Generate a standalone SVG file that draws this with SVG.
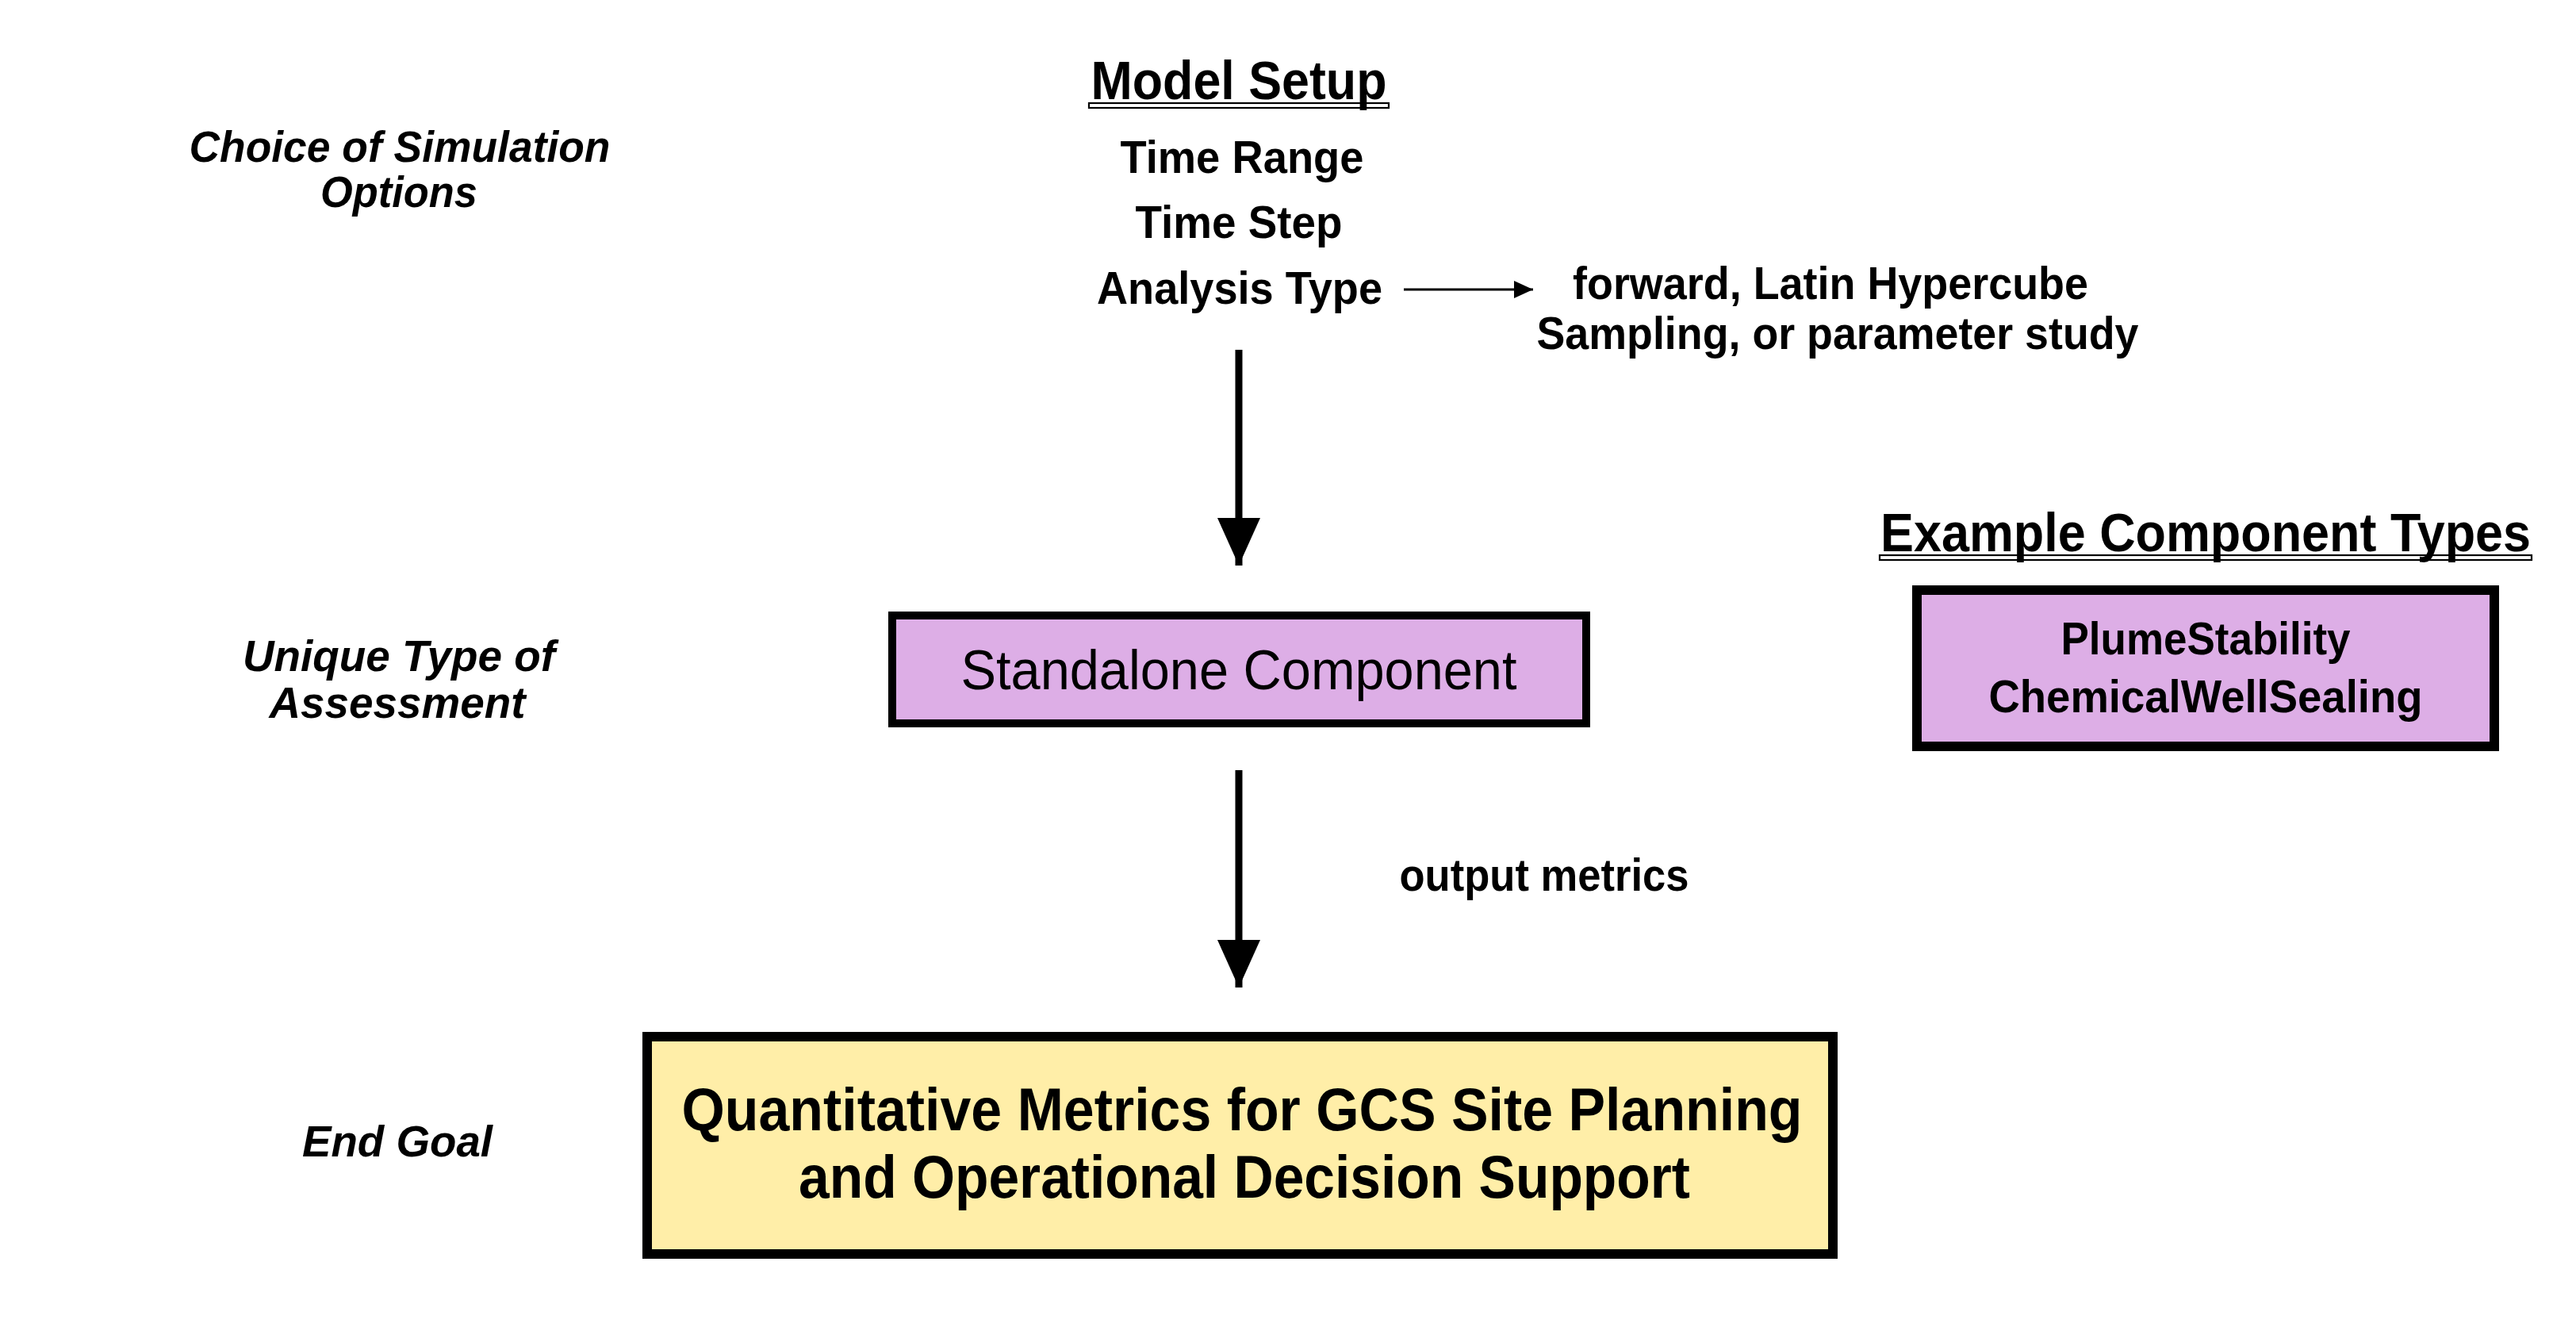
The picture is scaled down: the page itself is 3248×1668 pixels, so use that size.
<svg xmlns="http://www.w3.org/2000/svg" width="3248" height="1668" viewBox="0 0 3248 1668">
<style>
text{font-family:"Liberation Sans",Arial,sans-serif;fill:#000;text-anchor:middle}
.b{font-weight:bold}
.lbl{font-weight:bold;font-style:italic;font-size:56px}
.opt{font-weight:bold;font-size:58px}
.ul{fill:#fff;stroke:#000;stroke-width:2.2}
.box{stroke:#000}
</style>
<defs>
<marker id="bigHead" markerUnits="userSpaceOnUse" markerWidth="60" markerHeight="54" refX="60" refY="27" orient="auto">
<path d="M0,0 L60,27 L0,54 Z" fill="#000"/>
</marker>
<marker id="smallHead" markerUnits="userSpaceOnUse" markerWidth="24" markerHeight="22" refX="24" refY="11" orient="auto">
<path d="M0,0 L24,11 L0,22 Z" fill="#000"/>
</marker>
</defs>
<rect width="3248" height="1668" fill="#fff"/>

<g id="row-labels">
<text class="lbl" x="504" y="204" textLength="531" lengthAdjust="spacingAndGlyphs">Choice of Simulation</text>
<text class="lbl" x="503" y="261" textLength="198" lengthAdjust="spacingAndGlyphs">Options</text>
<text class="lbl" x="503" y="846" textLength="394" lengthAdjust="spacingAndGlyphs">Unique Type of</text>
<text class="lbl" x="501" y="905" textLength="323" lengthAdjust="spacingAndGlyphs">Assessment</text>
<text class="lbl" x="501" y="1458" textLength="240" lengthAdjust="spacingAndGlyphs">End Goal</text>
</g>

<g id="model-setup">
<rect class="ul" x="1373" y="130" width="378" height="6"/>
<text class="b" x="1562" y="125" font-size="68" textLength="373" lengthAdjust="spacingAndGlyphs">Model Setup</text>
<text class="opt" x="1566" y="218" textLength="307" lengthAdjust="spacingAndGlyphs">Time Range</text>
<text class="opt" x="1562" y="300" textLength="261" lengthAdjust="spacingAndGlyphs">Time Step</text>
<text class="opt" x="1563" y="383" textLength="360" lengthAdjust="spacingAndGlyphs">Analysis Type</text>
</g>

<g id="analysis-options">
<text class="opt" x="2308" y="377" textLength="650" lengthAdjust="spacingAndGlyphs">forward, Latin Hypercube</text>
<text class="opt" x="2317" y="440" textLength="759" lengthAdjust="spacingAndGlyphs">Sampling, or parameter study</text>
</g>

<g id="standalone-component">
<rect class="box" x="1125" y="776" width="875" height="136" fill="#DDAEE6" stroke-width="10"/>
<text x="1562" y="869" font-size="70" textLength="701" lengthAdjust="spacingAndGlyphs">Standalone Component</text>
</g>

<g id="example-types">
<rect class="ul" x="2370" y="700" width="822" height="6"/>
<text class="b" x="2781" y="695" font-size="68" textLength="820" lengthAdjust="spacingAndGlyphs">Example Component Types</text>
<rect class="box" x="2417" y="744" width="728" height="197" fill="#DDAEE6" stroke-width="12"/>
<text class="b" x="2781" y="825" font-size="57" textLength="365" lengthAdjust="spacingAndGlyphs">PlumeStability</text>
<text class="b" x="2781" y="898" font-size="57" textLength="547" lengthAdjust="spacingAndGlyphs">ChemicalWellSealing</text>
</g>

<g id="end-goal">
<rect class="box" x="816" y="1307" width="1495" height="274" fill="#FFEEA8" stroke-width="12"/>
<text class="b" x="1566" y="1425" font-size="76" textLength="1413" lengthAdjust="spacingAndGlyphs">Quantitative Metrics for GCS Site Planning</text>
<text class="b" x="1569" y="1510" font-size="76" textLength="1124" lengthAdjust="spacingAndGlyphs">and Operational Decision Support</text>
</g>

<g id="connectors">
<line x1="1770" y1="365" x2="1933" y2="365" stroke="#000" stroke-width="3" marker-end="url(#smallHead)"/>
<line x1="1562" y1="441" x2="1562" y2="713" stroke="#000" stroke-width="9" marker-end="url(#bigHead)"/>
<line x1="1562" y1="971" x2="1562" y2="1245" stroke="#000" stroke-width="9" marker-end="url(#bigHead)"/>
<text class="b" x="1947" y="1123" font-size="57" textLength="365" lengthAdjust="spacingAndGlyphs">output metrics</text>
</g>
</svg>
